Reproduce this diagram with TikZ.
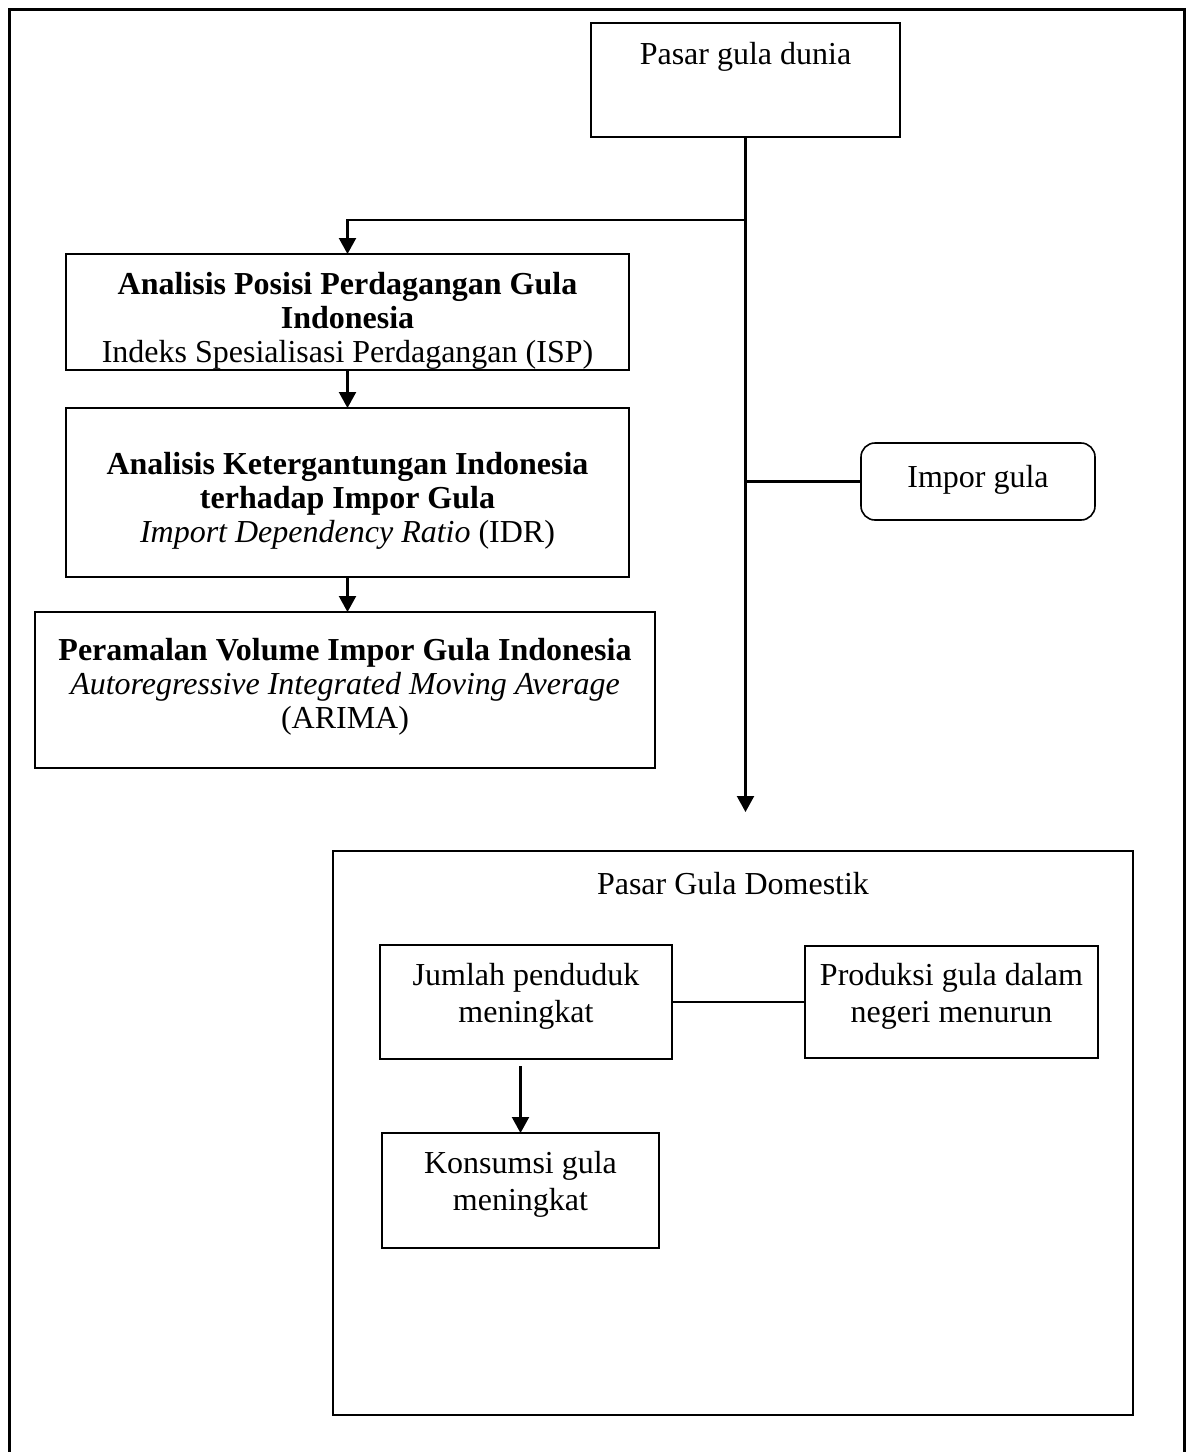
\documentclass[tikz,border=0pt]{standalone}
\usepackage{fontspec}
\setmainfont{Liberation Serif}
\usetikzlibrary{arrows.meta}
\newcommand\fsz{\fontsize{32}{34}\selectfont}
\newcommand\fszw{\fontsize{32}{37}\selectfont}
\begin{document}
\begin{tikzpicture}[x=1pt,y=-1pt,
  box/.style={draw, line width=1.6pt, rectangle, inner sep=0pt, outer sep=0pt},
  rbox/.style={box, rounded corners=14pt},
  txt/.style={font=\fsz, align=center, inner sep=0pt, anchor=north, execute at begin node=\strut},
  wtxt/.style={txt, font=\fszw},
  conn/.style={line width=2.2pt},
  arr/.style={conn, -{Triangle[width=17pt,length=16pt]}},
  frame/.style={line width=3pt}]
\useasboundingbox (0,0) rectangle (1188,1452);
\draw[frame] (9,1470) -- (9,9) -- (1184,9) -- (1184,1470);

% boxes
\node[box, minimum width=309pt, minimum height=114pt] (dunia) at (745.5,80) {};
\node[box, minimum width=563pt, minimum height=116pt] (b1) at (347.5,312) {};
\node[box, minimum width=563pt, minimum height=169pt] (b2) at (347.5,492.5) {};
\node[box, minimum width=620pt, minimum height=156pt] (b3) at (345,690) {};
\node[rbox, minimum width=234pt, minimum height=77pt] (impor) at (978,481.5) {};
\node[box, line width=1.3pt, minimum width=800pt, minimum height=564pt] (dom) at (733,1133) {};
\node[box, minimum width=292pt, minimum height=114pt] (jumlah) at (526,1002) {};
\node[box, minimum width=293pt, minimum height=112pt] (produksi) at (951.5,1002) {};
\node[box, minimum width=277pt, minimum height=115pt] (konsumsi) at (520.5,1190.5) {};

% texts
\node[txt] (tdunia) at (745.5,40) {Pasar gula dunia};
\node[txt] (tb1) at (347.5,272) {\textbf{Analisis Posisi Perdagangan Gula}\\ \textbf{Indonesia}\\ Indeks Spesialisasi Perdagangan (ISP)};
\node[txt] (tb2) at (347.5,452) {\textbf{Analisis Ketergantungan Indonesia}\\ \textbf{terhadap Impor Gula}\\ \textit{Import Dependency Ratio} (IDR)};
\node[txt] (tb3) at (345,638) {\textbf{Peramalan Volume Impor Gula Indonesia}\\ \textit{Autoregressive Integrated Moving Average}\\ (ARIMA)};
\node[txt] (timpor) at (978,463) {Impor gula};
\node[txt] (tdom) at (733,870) {Pasar Gula Domestik};
\node[wtxt] (tjumlah) at (526,963) {Jumlah penduduk\\ meningkat};
\node[wtxt] (tproduksi) at (951.5,963) {Produksi gula dalam\\ negeri menurun};
\node[wtxt] (tkonsumsi) at (520.5,1151) {Konsumsi gula\\ meningkat};

% connectors
\path (dunia.south) ++(0,675) coordinate (arrEnd);
\path (dunia.south) ++(0,83) coordinate (j1);
\draw[arr] (dunia.south) -- (arrEnd);
\draw[arr] (j1) -| (b1.north);
\draw[arr] (b1.south) -- (b2.north);
\draw[arr] (b2.south) -- (b2.south |- b3.north);
\draw[conn] (impor.west) -- (impor.west -| dunia.south);
\draw[conn, line width=1.6pt] (jumlah.east) -- (jumlah.east -| produksi.west);
\path (konsumsi.north |- jumlah.south) ++(0,7) coordinate (k0);
\draw[arr] (k0) -- (konsumsi.north);
\end{tikzpicture}
\end{document}
